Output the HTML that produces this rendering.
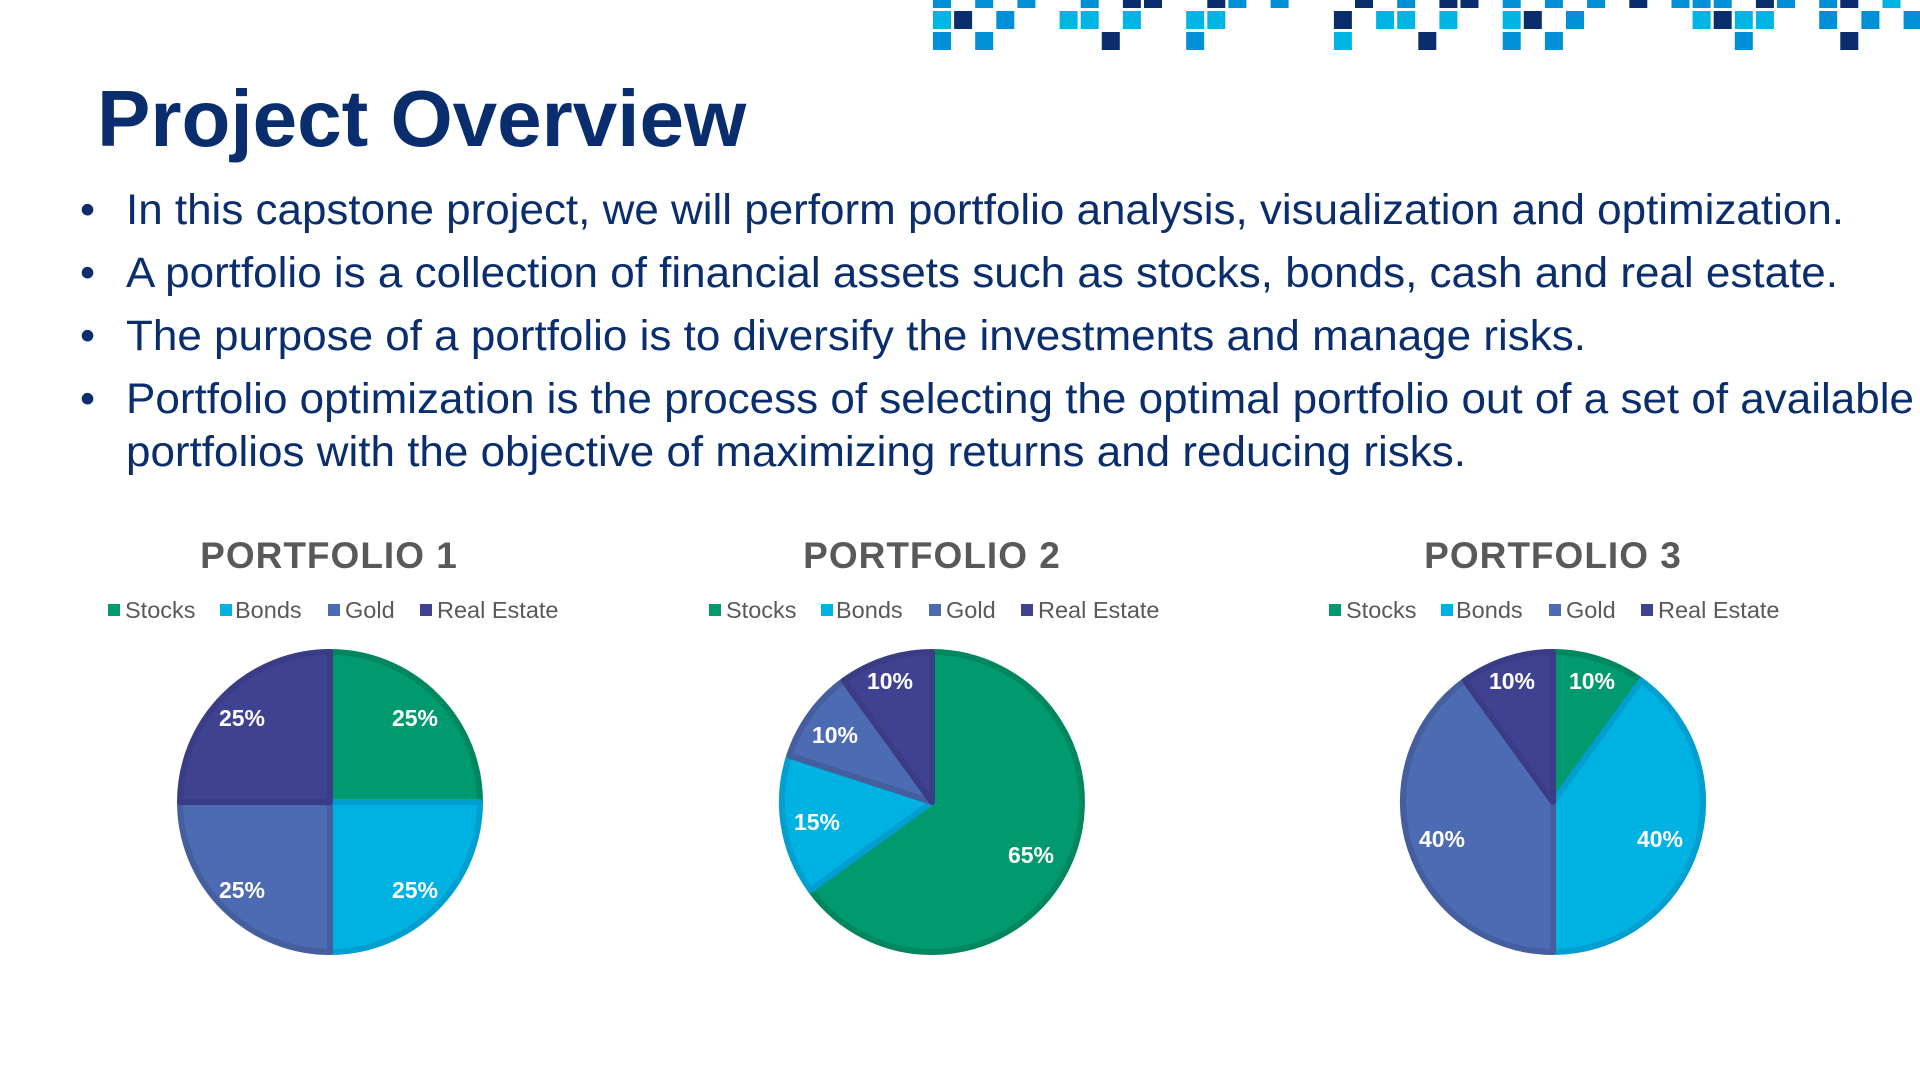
<!DOCTYPE html>
<html><head><meta charset="utf-8"><style>
html,body{margin:0;padding:0;background:#fff;}
body{width:1920px;height:1080px;overflow:hidden;position:relative;font-family:"Liberation Sans",Arial,sans-serif;}
</style></head><body>
<svg width="1920" height="1080" viewBox="0 0 1920 1080" xmlns="http://www.w3.org/2000/svg" style="position:absolute;left:0;top:0">
<g id="sq"></g>
<text x="97" y="146" font-family="Liberation Sans, sans-serif" font-weight="bold" font-size="80" fill="#0a2d6e">Project Overview</text>
<g font-family="Liberation Sans, sans-serif" font-size="43" fill="#0a2d6e">
<text x="80" y="224">•</text><text x="126" y="224" textLength="1718" lengthAdjust="spacingAndGlyphs">In this capstone project, we will perform portfolio analysis, visualization and optimization.</text>
<text x="80" y="287">•</text><text x="126" y="287" textLength="1712" lengthAdjust="spacingAndGlyphs">A portfolio is a collection of financial assets such as stocks, bonds, cash and real estate.</text>
<text x="80" y="350">•</text><text x="126" y="350" textLength="1460" lengthAdjust="spacingAndGlyphs">The purpose of a portfolio is to diversify the investments and manage risks.</text>
<text x="80" y="413">•</text><text x="126" y="413" textLength="1788" lengthAdjust="spacingAndGlyphs">Portfolio optimization is the process of selecting the optimal portfolio out of a set of available</text>
<text x="126" y="466" textLength="1340" lengthAdjust="spacingAndGlyphs">portfolios with the objective of maximizing returns and reducing risks.</text>
</g>
<g font-family="Liberation Sans, sans-serif" font-weight="bold" font-size="37" fill="#595959" text-anchor="middle" letter-spacing="1">
<text x="329" y="568">PORTFOLIO 1</text><text x="932" y="568">PORTFOLIO 2</text><text x="1553" y="568">PORTFOLIO 3</text>
</g>
<g id="leg" font-family="Liberation Sans, sans-serif" font-size="23.5" fill="#595959"></g>
<g stroke-width="6" stroke-linejoin="round">
<path d="M330,802 L330,652 A150,150 0 0 1 480,802 Z" fill="#009a6e" stroke="#00875f"/>
<path d="M330,802 L480,802 A150,150 0 0 1 330,952 Z" fill="#00b2e2" stroke="#009fcf"/>
<path d="M330,802 L330,952 A150,150 0 0 1 180,802 Z" fill="#4d6bb3" stroke="#445e9e"/>
<path d="M330,802 L180,802 A150,150 0 0 1 330,652 Z" fill="#3f4290" stroke="#3a3d85"/>
<path d="M932,802 L932,652 A150,150 0 1 1 810.6,890.2 Z" fill="#009a6e" stroke="#00875f"/>
<path d="M932,802 L810.6,890.2 A150,150 0 0 1 789.3,755.6 Z" fill="#00b2e2" stroke="#009fcf"/>
<path d="M932,802 L789.3,755.6 A150,150 0 0 1 843.8,680.6 Z" fill="#4d6bb3" stroke="#445e9e"/>
<path d="M932,802 L843.8,680.6 A150,150 0 0 1 932,652 Z" fill="#3f4290" stroke="#3a3d85"/>
<path d="M1553,802 L1553,652 A150,150 0 0 1 1641.2,680.6 Z" fill="#009a6e" stroke="#00875f"/>
<path d="M1553,802 L1641.2,680.6 A150,150 0 0 1 1553,952 Z" fill="#00b2e2" stroke="#009fcf"/>
<path d="M1553,802 L1553,952 A150,150 0 0 1 1464.8,680.6 Z" fill="#4d6bb3" stroke="#445e9e"/>
<path d="M1553,802 L1464.8,680.6 A150,150 0 0 1 1553,652 Z" fill="#3f4290" stroke="#3a3d85"/>
</g>
<g font-family="Liberation Sans, sans-serif" font-weight="bold" font-size="23" fill="#fff" text-anchor="middle">
<text x="242" y="726">25%</text><text x="415" y="726">25%</text><text x="242" y="898">25%</text><text x="415" y="898">25%</text>
<text x="890" y="689">10%</text><text x="835" y="743">10%</text><text x="817" y="830">15%</text><text x="1031" y="863">65%</text>
<text x="1512" y="689">10%</text><text x="1592" y="689">10%</text><text x="1442" y="847">40%</text><text x="1660" y="847">40%</text>
</g>
</svg>
<script>
var NS="http://www.w3.org/2000/svg";
var M="#0090d8",D="#0a2d6e",C="#00b4e3";
var rows=[
 [-10,[[0,M],[2,M],[4,M],[7,M],[9,D],[10,D],[13,D],[14,M],[16,M],[20,D],[22,M],[24,D],[25,D],[27,M],[29,M],[31,M],[33,D],[35,M],[36,M],[37,M],[39,D],[40,M],[42,M],[43,D],[45,C]]],
 [11,[[0,C],[1,D],[3,M],[6,C],[7,C],[9,C],[12,C],[13,C],[19,D],[21,C],[22,C],[24,C],[27,C],[28,D],[30,M],[36,C],[37,D],[38,C],[39,C],[42,M],[44,M],[46,M]]],
 [32,[[0,M],[2,M],[8,D],[12,M],[19,C],[23,D],[27,M],[29,M],[38,M],[43,D]]]
];
var g=document.getElementById("sq");
rows.forEach(function(r){r[1].forEach(function(s){var e=document.createElementNS(NS,"rect");
e.setAttribute("x",933+21.1*s[0]);e.setAttribute("y",r[0]);e.setAttribute("width",18);e.setAttribute("height",18);e.setAttribute("fill",s[1]);g.appendChild(e);});});
var leg=document.getElementById("leg");
var items=[[108,125,"#009a6e","Stocks"],[220,235,"#00b2e2","Bonds"],[328,345,"#4d6bb3","Gold"],[420,437,"#3f4290","Real Estate"]];
[0,601,1221].forEach(function(off){items.forEach(function(it){
var r=document.createElementNS(NS,"rect");r.setAttribute("x",it[0]+off);r.setAttribute("y",604);r.setAttribute("width",12);r.setAttribute("height",12);r.setAttribute("fill",it[2]);leg.appendChild(r);
var t=document.createElementNS(NS,"text");t.setAttribute("x",it[1]+off);t.setAttribute("y",618);t.textContent=it[3];leg.appendChild(t);});});
</script>
</body></html>
